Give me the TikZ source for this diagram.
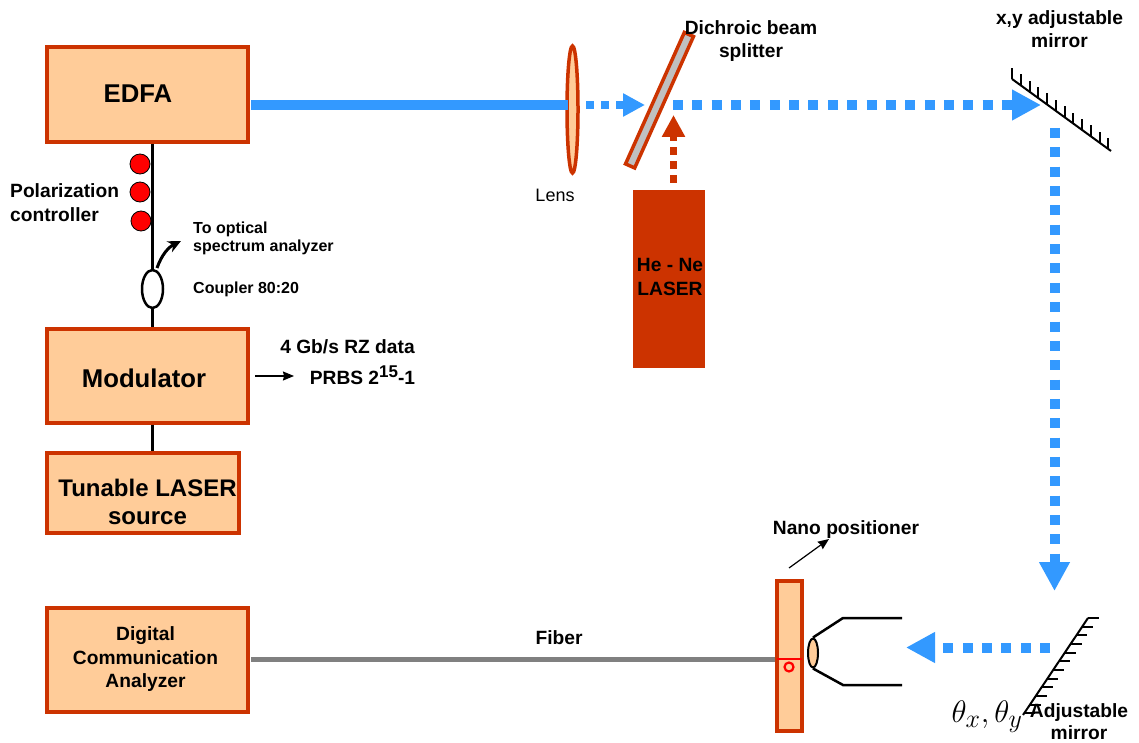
\documentclass[tikz,border=0pt]{standalone}
\usepackage{fontspec}
\setmainfont{Liberation Sans}
\usetikzlibrary{arrows.meta,calc,shapes.geometric}
\definecolor{Rust}{HTML}{CC3300}
\definecolor{Peach}{HTML}{FFCC99}
\definecolor{BeamBlue}{HTML}{3399FF}
\definecolor{FiberGray}{HTML}{808080}
\definecolor{PlateGray}{HTML}{C0C0C0}
\newcommand{\fs}[1]{\fontsize{#1}{#1}\selectfont}

\begin{document}
\begin{tikzpicture}[x=1pt, y=-1pt,
  box/.style={draw=Rust, line width=4pt, fill=Peach, inner sep=0pt},
  lab/.style={font=\fs{19.2}\bfseries, align=center, inner sep=0pt, text depth=0pt},
  biglab/.style={lab, font=\fs{25.7}\bfseries},
  smalllab/.style={lab, font=\fs{16}\bfseries, align=left},
  paddle/.style={circle, draw=black, fill=red, line width=0.8pt, minimum size=20pt, inner sep=0pt},
  fiber/.style={line width=3.5pt, draw=black},
  solidbeam/.style={line width=10pt, draw=BeamBlue},
  beam/.style={line width=10pt, draw=BeamBlue, dash pattern=on 10pt off 9.35pt,
    -{Triangle[length=29pt,width=29pt]}},
  thinarrow/.style={-{Stealth[length=11pt,width=9pt,inset=1pt]}, line width=1.2pt, draw=black},
  hatch/.style={line width=2pt, draw=black}
]
  \useasboundingbox (0,0) rectangle (1139,743);

  % left column
  \node[box, minimum width=201.5pt, minimum height=95pt] (edfa) at (147.7,95) {};
  \node[box, minimum width=201.5pt, minimum height=94pt] (modulator) at (147.7,375.5) {};
  \node[box, minimum width=192pt, minimum height=80pt] (laser) at (143,492.5) {};
  \node[box, minimum width=201.5pt, minimum height=104pt] (dca) at (147.7,659.5) {};
  \node[biglab] (edfalab) at (138,94) {EDFA};
  \node[biglab] (modlab) at (144,378) {Modulator};
  \node[biglab, font=\fontsize{24}{28}\selectfont\bfseries] (laserlab) at (147.5,502) {Tunable LASER\\source};
  \node[lab, font=\fontsize{19.2}{23.5}\selectfont\bfseries] (dcalab) at (145.5,657.5) {Digital\\Communication\\Analyzer};

  \node[ellipse, draw=black, fill=white, line width=2.5pt, minimum width=21pt, minimum height=38pt, inner sep=0pt] (coupler) at (152.5,289) {};
  \draw[fiber] (edfa.south -| coupler) -- (coupler.north);
  \draw[fiber] (coupler.south) -- (modulator.north -| coupler);
  \draw[fiber] (modulator.south -| coupler) -- (laser.north -| coupler);
  \node[paddle] (pc1) at (140,164) {};
  \node[paddle] (pc2) at (140,192) {};
  \node[paddle] (pc3) at (141,221) {};
  \node[lab, align=left, anchor=west, font=\fontsize{19.2}{24}\selectfont\bfseries] (pclab) at (10,203) {Polarization\\controller};

  \coordinate (tap) at (157,268);
  \coordinate (taptip) at (181,241);
  \draw[-{Stealth[length=13pt,width=12pt]}, line width=3pt] (tap) to[bend left=22] (taptip);
  \node[smalllab, anchor=west, font=\fontsize{16}{18}\selectfont\bfseries] (osalab) at (193,237) {To optical\\spectrum analyzer};
  \node[smalllab, anchor=west] (couplab) at (193,288) {Coupler 80:20};

  \node[lab] (datalab) at (347.5,347) {4 Gb/s RZ data};
  \node[lab] (prbslab) at (362.5,375) {PRBS 2\raisebox{6.5pt}{\fs{17}\bfseries 15}-1};
  \coordinate (datatip) at (294,376);
  \draw[thinarrow] (modulator.east |- datatip) ++(5,0) -- (datatip);

  % free space path
  \node[ellipse, draw=Rust, fill=Peach, line width=3.5pt, minimum width=11pt, minimum height=127pt, inner sep=0pt] (lens) at (572.5,109.5) {};
  \node[font=\fs{18}, inner sep=0pt] (lenslab) at (555,195) {Lens};
  \node[draw=Rust, fill=PlateGray, line width=3.5pt, rotate=65.9, minimum width=144pt, minimum height=10pt, inner sep=0pt] (splitter) at (659.5,100.2) {};
  \node[lab, font=\fontsize{19.2}{23}\selectfont\bfseries] (splitlab) at (751,39.5) {Dichroic beam\\splitter};

  \node[fill=Rust, minimum width=72pt, minimum height=178pt, inner sep=0pt] (hene) at (669,279) {};
  \node[lab, font=\fontsize{19.2}{24}\selectfont\bfseries] (henelab) at (670,277) {He - Ne\\LASER};

  \coordinate (lensin) at (568,105);
  \coordinate (lensout) at (586,105);
  \coordinate (splitin) at (645,105);
  \coordinate (splitout) at (673,105);
  \coordinate (m1in) at (1041,105);
  \coordinate (m1out) at (1054.5,128);
  \coordinate (m2in) at (1054.5,591);
  \coordinate (m2out) at (1050,647.5);
  \coordinate (objin) at (906,647.5);
  \coordinate (henetip) at (673.5,115);

  \draw[solidbeam] (edfa.east |- lensin) ++(1,0) -- (lensin);
  \draw[line width=8pt, draw=BeamBlue, dash pattern=on 8pt off 7pt, -{Triangle[length=22pt,width=22pt]}] (lensout) -- (splitin);
  \draw[line width=7pt, draw=Rust, dash pattern=on 7.5pt off 6.5pt, -{Triangle[length=22pt,width=22pt]}] (673.5,183) -- (henetip);
  \draw[beam] (splitout) -- (m1in);
  \draw[beam] (m1out) -- (m2in);
  \draw[beam] (m2out) -- (objin);

  % mirrors
  \coordinate (m1a) at (1012,79);
  \coordinate (m1b) at (1111,151);
  \draw[hatch] (m1a) -- (m1b);
  \foreach \i in {0,...,11}
    \draw[hatch] ($(m1a)!\i/11.3!(m1b)$) -- ++(0,-11);
  \node[lab, font=\fontsize{19.2}{23}\selectfont\bfseries] (m1lab) at (1059.5,29) {x,y adjustable\\mirror};

  \coordinate (m2a) at (1088,618);
  \coordinate (m2b) at (1023,715);
  \draw[hatch] (m2a) -- (m2b);
  \foreach \i in {0,...,11}
    \draw[hatch] ($(m2a)!\i/11.2!(m2b)$) -- ++(11,0);
  \node[font=\fs{24.88}, scale=1.25, inner sep=0pt] (thetalab) at (987,717) {$\theta_x,\theta_y$};
  \node[lab, font=\fontsize{19.2}{22}\selectfont\bfseries] (m2lab) at (1079,721.5) {Adjustable\\mirror};

  % fiber launch
  \node[box, minimum width=25pt, minimum height=150pt] (stage) at (789.5,655.5) {};
  \draw[line width=5pt, draw=FiberGray] (dca.east) ++(1,0) -- (stage.west |- dca);
  \coordinate (stagel) at (777,659);
  \coordinate (stager) at (802,659);
  \draw[red, line width=1.5pt] (stagel) -- (stager);
  \node[circle, draw=red, line width=2.2pt, minimum size=9pt, inner sep=0pt] (core) at (789,667) {};
  \node[lab] (fiberlab) at (559,638) {Fiber};

  \node[ellipse, draw=black, fill=Peach, line width=2pt, minimum width=10pt, minimum height=29pt, inner sep=0pt] (objlens) at (813,653) {};
  \draw[line width=2.5pt] (objlens.north) -- (843,618) -- (902,618);
  \draw[line width=2.5pt] (objlens.south) -- (843,685) -- (902,685);

  \coordinate (nanotail) at (789,568);
  \coordinate (nanotip) at (829,539);
  \draw[thinarrow] (nanotail) -- (nanotip);
  \node[lab] (nanolab) at (846,528) {Nano positioner};
\end{tikzpicture}
\end{document}
